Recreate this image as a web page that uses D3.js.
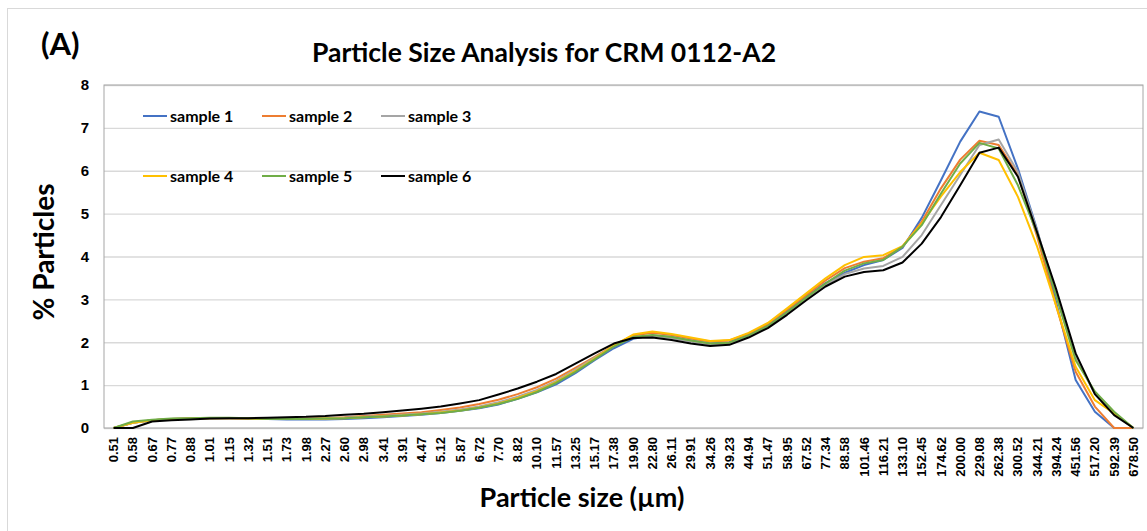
<!DOCTYPE html>
<html>
<head>
<meta charset="utf-8">
<script src="https://cdn.jsdelivr.net/npm/d3@7"></script>
<style>
	body { margin: 0; background: #fff; }
	svg { font-family: Lato, "Open Sans", sans-serif; }
	.tick text { font-weight: bold; fill: #000; }
</style>
</head>
<body>
<svg id="chart" width="1147" height="531"></svg>
<script>
// particle size classes (µm)
const sizes = ['0.51','0.58','0.67','0.77','0.88','1.01','1.15','1.32','1.51','1.73','1.98','2.27','2.60','2.98','3.41','3.91','4.47','5.12','5.87','6.72','7.70','8.82','10.10','11.57','13.25','15.17','17.38','19.90','22.80','26.11','29.91','34.26','39.23','44.94','51.47','58.95','67.52','77.34','88.58','101.46','116.21','133.10','152.45','174.62','200.00','229.08','262.38','300.52','344.21','394.24','451.56','517.20','592.39','678.50'];

const yTicks = [0, 1, 2, 3, 4, 5, 6, 7, 8];

// % particles per sample
const sample1 = [0,0.12,0.18,0.21,0.22,0.23,0.23,0.22,0.21,0.20,0.20,0.20,0.21,0.23,0.25,0.28,0.31,0.35,0.40,0.46,0.55,0.68,0.83,1.02,1.28,1.58,1.86,2.08,2.16,2.12,2.04,1.97,2.00,2.17,2.40,2.72,3.07,3.38,3.62,3.80,3.92,4.20,4.90,5.78,6.68,7.38,7.26,6.05,4.62,2.91,1.12,0.38,0,0];
const sample2 = [0,0.12,0.18,0.21,0.22,0.23,0.23,0.22,0.22,0.22,0.22,0.23,0.25,0.28,0.31,0.34,0.37,0.42,0.48,0.56,0.66,0.79,0.95,1.15,1.40,1.66,1.93,2.16,2.22,2.17,2.09,2.02,2.04,2.20,2.43,2.76,3.10,3.44,3.73,3.88,3.96,4.23,4.81,5.59,6.26,6.70,6.60,5.90,4.46,2.83,1.31,0.50,0,0];
const sample3 = [0,0.12,0.18,0.21,0.22,0.23,0.23,0.22,0.21,0.21,0.21,0.22,0.24,0.26,0.28,0.31,0.34,0.38,0.43,0.50,0.60,0.73,0.89,1.10,1.36,1.64,1.92,2.12,2.15,2.10,2.02,1.95,1.97,2.14,2.36,2.68,3.02,3.34,3.59,3.72,3.78,3.99,4.50,5.20,5.90,6.60,6.73,5.97,4.60,3.14,1.66,0.79,0.33,0];
const sample4 = [0,0.12,0.18,0.21,0.22,0.23,0.23,0.22,0.21,0.21,0.21,0.22,0.23,0.25,0.27,0.29,0.32,0.36,0.41,0.48,0.57,0.70,0.86,1.07,1.33,1.62,1.93,2.18,2.25,2.19,2.11,2.03,2.05,2.22,2.45,2.79,3.14,3.49,3.80,3.99,4.03,4.24,4.77,5.40,5.97,6.42,6.25,5.39,4.23,2.83,1.43,0.65,0.34,0];
const sample5 = [0,0.15,0.19,0.22,0.23,0.24,0.24,0.23,0.21,0.21,0.21,0.22,0.23,0.25,0.27,0.29,0.32,0.35,0.40,0.47,0.56,0.68,0.84,1.05,1.31,1.60,1.90,2.12,2.17,2.12,2.04,1.97,1.99,2.16,2.38,2.70,3.04,3.37,3.67,3.84,3.92,4.23,4.73,5.47,6.17,6.65,6.52,5.66,4.54,3.06,1.58,0.85,0.38,0];
const sample6 = [0,0,0.15,0.18,0.20,0.22,0.23,0.23,0.24,0.25,0.26,0.28,0.31,0.33,0.37,0.41,0.45,0.50,0.57,0.65,0.78,0.92,1.08,1.26,1.50,1.74,1.97,2.10,2.11,2.05,1.97,1.91,1.94,2.11,2.33,2.64,2.98,3.30,3.53,3.64,3.68,3.86,4.30,4.92,5.66,6.42,6.54,5.86,4.56,3.22,1.74,0.79,0.30,0];

const seriesNames = ['sample 1','sample 2','sample 3','sample 4','sample 5','sample 6'];
const seriesColors = ['#4472C4','#ED7D31','#A5A5A5','#FFC000','#70AD47','#000000'];
const seriesValues = [sample1, sample2, sample3, sample4, sample5, sample6];

const plot = {left: 104, right: 1143, top: 85, bottom: 428};

const svg = d3.select('#chart');

// outer chart frame
svg.append('rect')
	.attr('x', 7.5).attr('y', 8.5)
	.attr('width', 1160).attr('height', 540)
	.attr('fill', 'none')
	.attr('stroke', '#d9d9d9');

const xScale = d3.scaleBand().domain(sizes).range([plot.left, plot.right]);
const yScale = d3.scaleLinear().domain([0, 8]).range([plot.bottom, plot.top]);
const xMid = d => xScale(d) + xScale.bandwidth() / 2;

// gridlines + y labels
const yAxis = d3.axisLeft(yScale)
	.tickValues(yTicks)
	.tickFormat(d3.format('d'))
	.tickSize(-(plot.right - plot.left))
	.tickPadding(15);

svg.append('g')
	.attr('transform', `translate(${plot.left},0)`)
	.call(yAxis)
	.call(g => g.select('.domain').remove())
	.call(g => g.selectAll('.tick line').attr('stroke', '#d9d9d9').attr('stroke-width', 1.3))
	.call(g => g.selectAll('.tick text').style('font-size', '15px'));

// plot area border
svg.append('rect')
	.attr('x', plot.left).attr('y', plot.top)
	.attr('width', plot.right - plot.left).attr('height', plot.bottom - plot.top)
	.attr('fill', 'none')
	.attr('stroke', '#a6a6a6');

// x labels (rotated)
const xAxis = d3.axisBottom(xScale).tickSize(0).tickPadding(0);
svg.append('g')
	.attr('transform', `translate(0,${plot.bottom})`)
	.call(xAxis)
	.call(g => g.select('.domain').remove())
	.call(g => g.selectAll('.tick text')
		.style('font-size', '13px')
		.attr('text-anchor', 'end')
		.attr('transform', 'rotate(-90)')
		.attr('x', -9)
		.attr('y', 0)
		.attr('dy', '0.35em'));

// lines
const lineGenerator = d3.line()
	.x((d, i) => xMid(sizes[i]))
	.y(d => yScale(d));

svg.append('g')
	.selectAll('path')
	.data(seriesValues)
	.join('path')
	.attr('fill', 'none')
	.attr('stroke', (d, i) => seriesColors[i])
	.attr('stroke-width', 2)
	.attr('stroke-linejoin', 'round')
	.attr('d', d => lineGenerator(d));

// legend, 3 per row
const legend = svg.append('g')
	.selectAll('g')
	.data(seriesNames)
	.join('g')
	.attr('transform', (d, i) => `translate(${143 + (i % 3) * 119},${116 + Math.floor(i / 3) * 60})`);

legend.append('line')
	.attr('x1', 0).attr('x2', 24)
	.attr('stroke', (d, i) => seriesColors[i])
	.attr('stroke-width', 2);

legend.append('text')
	.attr('x', 27)
	.attr('dy', '0.35em')
	.style('font-size', '16px')
	.style('font-weight', 'bold')
	.text(d => d);

// titles
svg.append('text')
	.attr('x', 41).attr('y', 55)
	.style('font-size', '31px')
	.style('font-weight', 'bold')
	.text('(A)');

svg.append('text')
	.attr('x', 544).attr('y', 62)
	.attr('text-anchor', 'middle')
	.style('font-size', '26.5px')
	.style('font-weight', 'bold')
	.text('Particle Size Analysis for CRM 0112-A2');

svg.append('text')
	.attr('transform', `translate(54,252) rotate(-90)`)
	.attr('text-anchor', 'middle')
	.style('font-size', '28px')
	.style('font-weight', 'bold')
	.text('% Particles');

svg.append('text')
	.attr('x', 582).attr('y', 507)
	.attr('text-anchor', 'middle')
	.style('font-size', '27px')
	.style('font-weight', 'bold')
	.text('Particle size (µm)');
</script>
</body>
</html>
